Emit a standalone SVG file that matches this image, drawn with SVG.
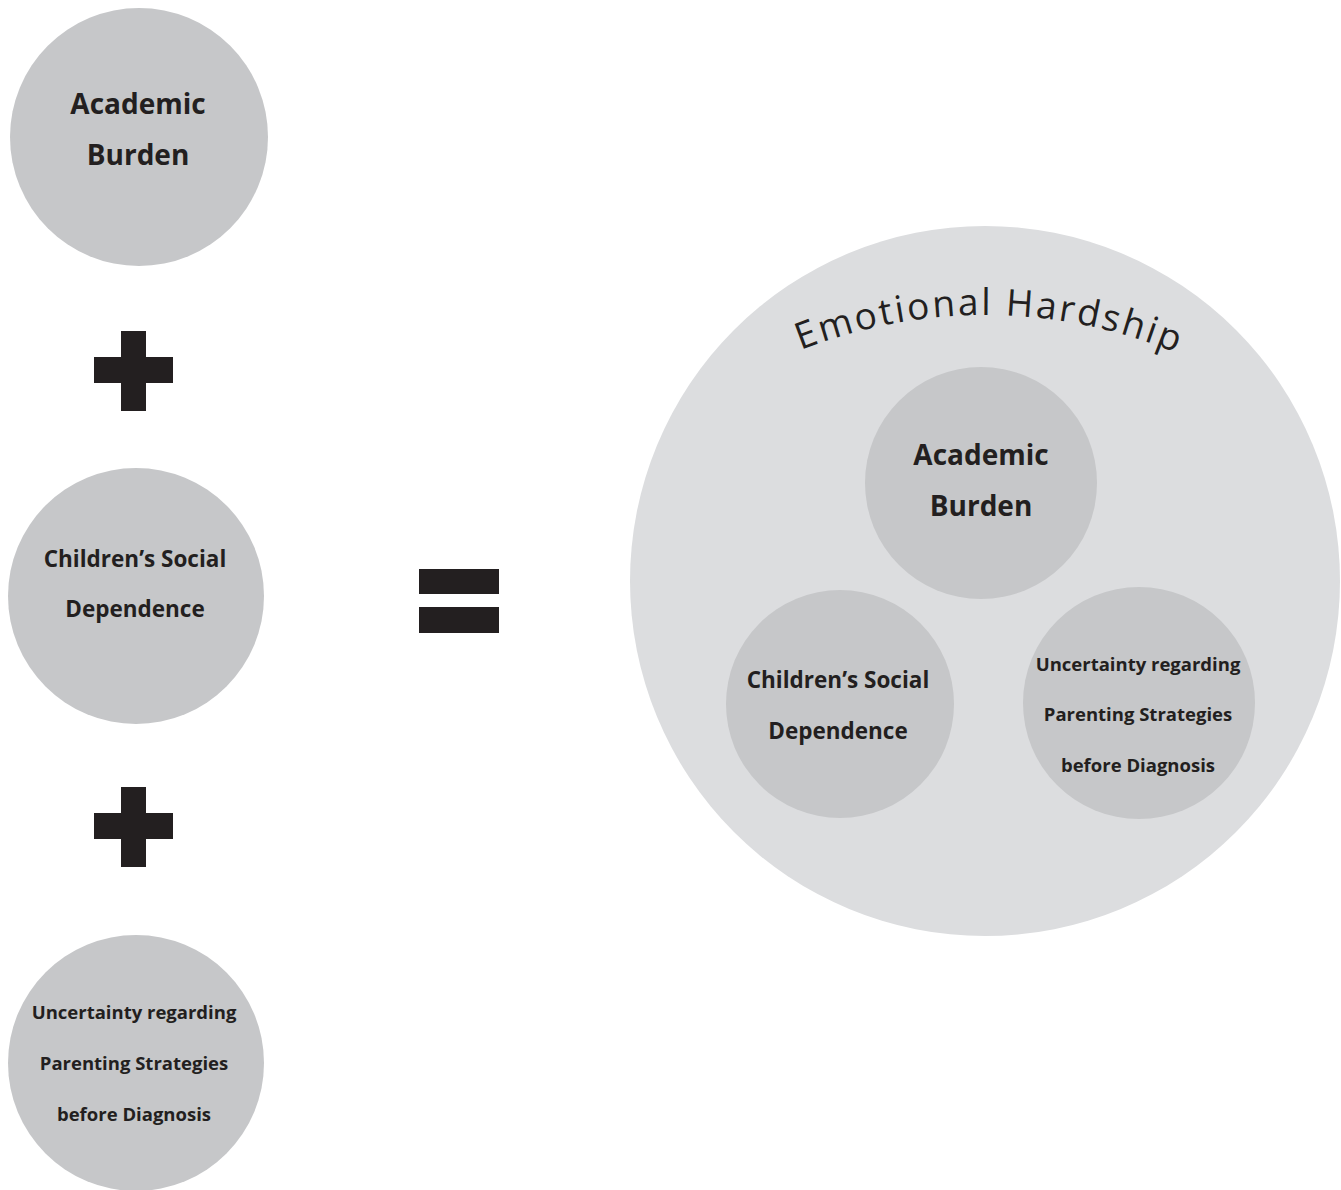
<svg xmlns="http://www.w3.org/2000/svg" width="1341" height="1190" viewBox="0 0 1341 1190">
<style>
.node{fill:#c6c7c9}
.big{fill:#dcdddf}
.lbl{font-family:"Open Sans","Liberation Sans",sans-serif;font-weight:700;fill:#231f20;text-anchor:middle}
.l1{font-size:28px}
.l2{font-size:22.5px}
.l3{font-size:18.5px}
.op{fill:#231f20}
.title{font-family:"Open Sans","Liberation Sans",sans-serif;font-size:37px;letter-spacing:2.5px;fill:#231f20}
</style>
<defs>
<path id="arc" d="M 485 815 A 500 500 0 0 1 1485 815"/>
</defs>
<rect width="1341" height="1190" fill="#ffffff"/>
<g id="academic-left">
<circle class="node" cx="139" cy="137" r="129"/>
<text class="lbl l1" x="138" y="114">Academic</text>
<text class="lbl l1" x="138" y="165">Burden</text>
</g>
<g id="social-left">
<circle class="node" cx="136" cy="596" r="128"/>
<text class="lbl l2" x="135" y="567">Children’s Social</text>
<text class="lbl l2" x="135" y="617">Dependence</text>
</g>
<g id="uncertainty-left">
<circle class="node" cx="136" cy="1063" r="128"/>
<text class="lbl l3" x="134" y="1019">Uncertainty regarding</text>
<text class="lbl l3" x="134" y="1070">Parenting Strategies</text>
<text class="lbl l3" x="134" y="1121">before Diagnosis</text>
</g>
<g id="operators">
<rect class="op" x="121" y="331" width="25" height="80"/>
<rect class="op" x="94" y="357" width="79" height="26"/>
<rect class="op" x="121" y="787" width="25" height="80"/>
<rect class="op" x="94" y="813" width="79" height="26"/>
<rect class="op" x="419" y="569" width="80" height="25"/>
<rect class="op" x="419" y="607" width="80" height="26"/>
</g>
<g id="emotional-hardship">
<circle class="big" cx="985" cy="581" r="355"/>
<text class="title"><textPath href="#arc" startOffset="50.3%" text-anchor="middle">Emotional Hardship</textPath></text>
</g>
<g id="academic-right">
<circle class="node" cx="981" cy="483" r="116"/>
<text class="lbl l1" x="981" y="465">Academic</text>
<text class="lbl l1" x="981" y="516">Burden</text>
</g>
<g id="social-right">
<circle class="node" cx="840" cy="704" r="114"/>
<text class="lbl l2" x="838" y="688">Children’s Social</text>
<text class="lbl l2" x="838" y="739">Dependence</text>
</g>
<g id="uncertainty-right">
<circle class="node" cx="1139" cy="703" r="116"/>
<text class="lbl l3" x="1138" y="671">Uncertainty regarding</text>
<text class="lbl l3" x="1138" y="721">Parenting Strategies</text>
<text class="lbl l3" x="1138" y="772">before Diagnosis</text>
</g>
<g id="connectors"/>
</svg>
